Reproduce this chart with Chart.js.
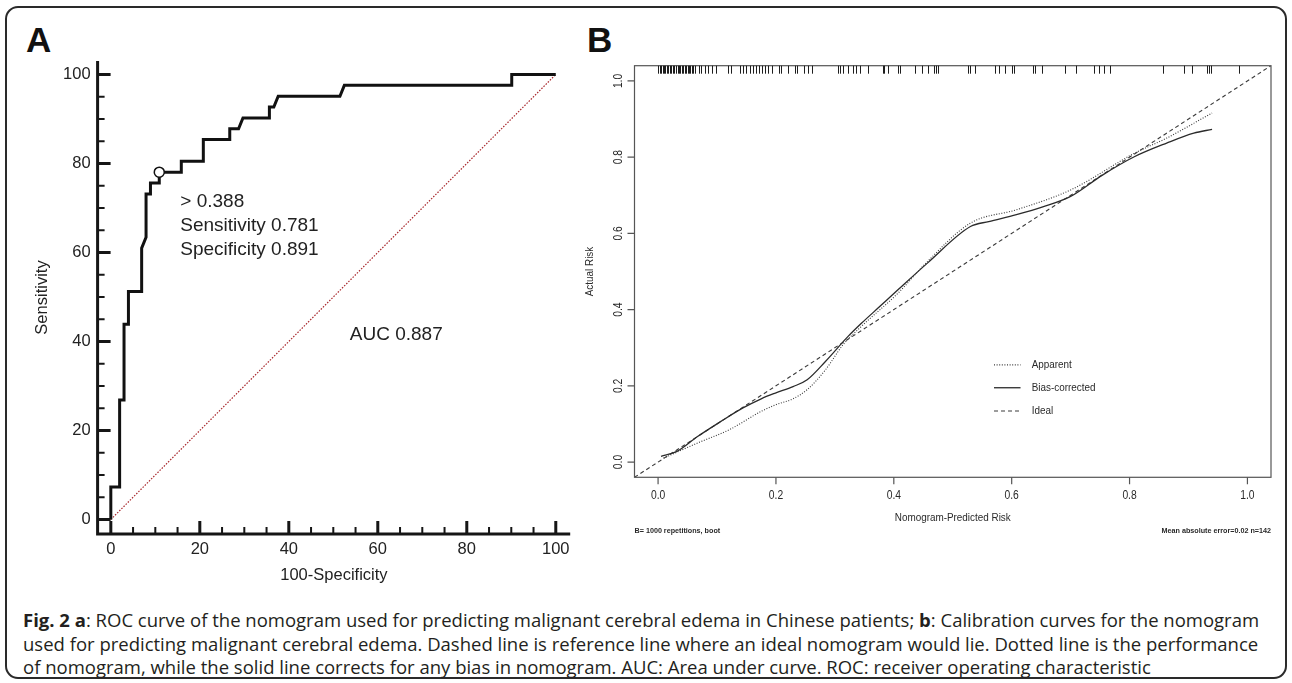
<!DOCTYPE html>
<html>
<head>
<meta charset="utf-8">
<script src="https://cdn.jsdelivr.net/npm/chart.js@4.4.1/dist/chart.umd.min.js"></script>
<style>
  html, body { margin: 0; padding: 0; background: #fff; }
  body { width: 1292px; height: 683px; position: relative; overflow: hidden; }
  #frame { position: absolute; left: 5px; top: 6px; width: 1278px; height: 669px;
           border: 2px solid #2a2a2a; border-radius: 13px; }
  .tag { position: absolute; font: bold 35px "Liberation Sans", Arial, sans-serif; line-height: 35px; color: #111; }
  canvas { position: absolute; }
  #cap { position: absolute; left: 23px; top: 608px; font: 18.5px "Open Sans", sans-serif;
         line-height: 23.5px; color: #231f20; white-space: nowrap; }
</style>
</head>
<body>
<div id="frame"></div>
<div class="tag" style="left:26px;top:22px">A</div>
<div class="tag" style="left:587px;top:22px">B</div>
<canvas id="rocChart" width="578" height="550" style="left:0;top:50px"></canvas>
<canvas id="calChart" width="712" height="550" style="left:578px;top:50px"></canvas>
<div id="cap">
  <div><b>Fig. 2</b> <b>a</b>: ROC curve of the nomogram used for predicting malignant cerebral edema in Chinese patients; <b>b</b>: Calibration curves for the nomogram</div>
  <div>used for predicting malignant cerebral edema. Dashed line is reference line where an ideal nomogram would lie. Dotted line is the performance</div>
  <div>of nomogram, while the solid line corrects for any bias in nomogram. AUC: Area under curve. ROC: receiver operating characteristic</div>
</div>
<script>
// ---- panel A: ROC curve (100-specificity, sensitivity, in %) ----
const rocFpr = [0, 0, 1.98, 1.98, 2.97, 2.97, 3.96, 3.96, 6.93, 6.93, 7.92, 7.92, 8.91, 8.91,
                10.89, 10.89, 15.84, 15.84, 20.79, 20.79, 26.73, 26.73, 28.71, 29.70, 35.64, 35.64,
                36.63, 37.62, 51.49, 52.48, 90.10, 90.10, 100];
const rocTpr = [0, 7.32, 7.32, 26.83, 26.83, 43.90, 43.90, 51.22, 51.22, 60.98, 63.41, 73.17, 73.17, 75.61,
                75.61, 78.05, 78.05, 80.49, 80.49, 85.37, 85.37, 87.80, 87.80, 90.24, 90.24, 92.68,
                92.68, 95.12, 95.12, 97.56, 97.56, 100, 100];
const rocCutoff     = [10.89, 78.05];
const rocCutoffText = ['> 0.388', 'Sensitivity 0.781', 'Specificity 0.891'];
const rocAucText    = 'AUC 0.887';
const rocTicks      = [0, 20, 40, 60, 80, 100];
const rocMinorStep  = 5;

// ---- panel B: calibration curves ----
const calTicks      = [0, 0.2, 0.4, 0.6, 0.8, 1.0];
const calTickLabels = ['0.0', '0.2', '0.4', '0.6', '0.8', '1.0'];
const apparentX = [0.009, 0.067, 0.121, 0.175, 0.199, 0.229, 0.253, 0.284, 0.314, 0.345, 0.407,
                   0.457, 0.530, 0.608, 0.700, 0.808, 0.863, 0.940];
const apparentY = [0.010, 0.050, 0.085, 0.133, 0.150, 0.166, 0.190, 0.242, 0.308, 0.356, 0.443,
                   0.526, 0.627, 0.662, 0.714, 0.810, 0.850, 0.916];
const biasX = [0.005, 0.032, 0.067, 0.106, 0.144, 0.175, 0.199, 0.229, 0.253, 0.284, 0.322, 0.345,
               0.376, 0.407, 0.457, 0.530, 0.561, 0.608, 0.654, 0.700, 0.754, 0.808, 0.863, 0.909, 0.940];
const biasY = [0.015, 0.028, 0.067, 0.106, 0.142, 0.166, 0.181, 0.198, 0.216, 0.264, 0.329, 0.364,
               0.408, 0.452, 0.522, 0.618, 0.631, 0.649, 0.670, 0.697, 0.753, 0.801, 0.837, 0.863, 0.873];
const rugRisk = [0.000, 0.003, 0.005, 0.008, 0.010, 0.012, 0.015, 0.017, 0.020, 0.022, 0.025, 0.027,
                 0.030, 0.033, 0.035, 0.038, 0.040, 0.043, 0.046, 0.048, 0.050, 0.052, 0.055, 0.057,
                 0.060, 0.062, 0.069, 0.073, 0.079, 0.085, 0.091, 0.099, 0.119, 0.124, 0.139, 0.144,
                 0.150, 0.156, 0.161, 0.166, 0.172, 0.176, 0.181, 0.187, 0.193, 0.205, 0.209, 0.220,
                 0.232, 0.235, 0.247, 0.254, 0.262, 0.305, 0.308, 0.314, 0.322, 0.330, 0.336, 0.342,
                 0.356, 0.382, 0.384, 0.390, 0.407, 0.411, 0.436, 0.447, 0.458, 0.469, 0.472, 0.475,
                 0.526, 0.530, 0.538, 0.571, 0.579, 0.589, 0.600, 0.604, 0.637, 0.640, 0.652, 0.690,
                 0.709, 0.740, 0.749, 0.757, 0.767, 0.857, 0.893, 0.906, 0.931, 0.934, 0.938, 0.985];
const calMin = -0.04;
const calMax = 1.04;

const fontA = '"Liberation Sans", Arial, sans-serif';
const zip = (xs, ys) => xs.map((v, i) => ({ x: v, y: ys[i] }));
function last(arr) { return arr[arr.length - 1]; }

const rocAxes = {
  id: 'rocAxes',
  afterDraw(chart) {
    const { ctx, chartArea: a, scales: { x, y } } = chart;
    ctx.save();
    ctx.strokeStyle = '#161616';
    ctx.lineWidth = 3;
    ctx.beginPath();
    ctx.moveTo(a.left, a.top);
    ctx.lineTo(a.left, a.bottom);
    ctx.lineTo(a.right, a.bottom);
    ctx.stroke();

    for (let v = rocTicks[0]; v <= last(rocTicks); v += rocMinorStep) {
      const major = rocTicks.includes(v);
      const len = major ? 13 : 7;
      ctx.lineWidth = major ? 3 : 2;
      const px = x.getPixelForValue(v);
      const py = y.getPixelForValue(v);
      ctx.beginPath();
      ctx.moveTo(px, a.bottom); ctx.lineTo(px, a.bottom - len);
      ctx.moveTo(a.left, py);   ctx.lineTo(a.left + len, py);
      ctx.stroke();
    }

    ctx.fillStyle = '#222';
    ctx.font = '16.5px ' + fontA;
    ctx.textBaseline = 'middle';
    ctx.textAlign = 'right';
    rocTicks.forEach(v => ctx.fillText(String(v), a.left - 7, y.getPixelForValue(v)));
    ctx.textAlign = 'center';
    rocTicks.forEach(v => ctx.fillText(String(v), x.getPixelForValue(v), a.bottom + 15));
    ctx.fillText('100-Specificity', (a.left + a.right) / 2, a.bottom + 41);
    ctx.save();
    ctx.translate(42, (a.top + a.bottom) / 2);
    ctx.rotate(-Math.PI / 2);
    ctx.fillText('Sensitivity', 0, 0);
    ctx.restore();

    ctx.font = '19px ' + fontA;
    ctx.textAlign = 'left';
    const cx = x.getPixelForValue(rocCutoff[0]);
    const cy = y.getPixelForValue(rocCutoff[1]);
    rocCutoffText.forEach((t, i) => ctx.fillText(t, cx + 21, cy + 30 + i * 23.8));
    ctx.fillText(rocAucText, x.getPixelForValue(53.7), y.getPixelForValue(41.4));
    ctx.restore();
  }
};

new Chart(document.getElementById('rocChart'), {
  type: 'scatter',
  data: {
    datasets: [
      {
        data: [{ x: rocCutoff[0], y: rocCutoff[1] }],
        pointRadius: 5,
        pointBackgroundColor: '#fff',
        pointBorderColor: '#111',
        pointBorderWidth: 1.5
      },
      {
        data: zip(rocFpr, rocTpr),
        showLine: true,
        borderColor: '#111',
        borderWidth: 3,
        borderJoinStyle: 'miter',
        pointRadius: 0
      },
      {
        data: [{ x: rocTicks[0], y: rocTicks[0] }, { x: last(rocTicks), y: last(rocTicks) }],
        showLine: true,
        borderColor: '#a8262b',
        borderWidth: 1.2,
        borderDash: [1.5, 1.5],
        pointRadius: 0
      }
    ]
  },
  options: {
    responsive: false,
    animation: false,
    devicePixelRatio: 1,
    layout: { padding: { left: 97.6, top: 11, right: 7.8, bottom: 66 } },
    plugins: { legend: { display: false }, tooltip: { enabled: false } },
    scales: {
      x: { type: 'linear', min: -2.97, max: 103.24, display: false },
      y: { type: 'linear', min: -3.26, max: 103.03, display: false }
    }
  },
  plugins: [rocAxes]
});

const calAxes = {
  id: 'calAxes',
  afterDraw(chart) {
    const { ctx, chartArea: a, scales: { x, y } } = chart;
    const narrow = (text, px, py, rot, align) => {
      ctx.save();
      ctx.translate(px, py);
      if (rot) ctx.rotate(rot);
      ctx.scale(0.86, 1);
      ctx.textAlign = align;
      ctx.fillText(text, 0, 0);
      ctx.restore();
    };
    ctx.save();
    ctx.strokeStyle = '#555';
    ctx.lineWidth = 1.2;
    ctx.strokeRect(a.left, a.top, a.right - a.left, a.bottom - a.top);

    ctx.beginPath();
    calTicks.forEach(v => {
      const px = x.getPixelForValue(v);
      const py = y.getPixelForValue(v);
      ctx.moveTo(px, a.bottom); ctx.lineTo(px, a.bottom + 7);
      ctx.moveTo(a.left, py);   ctx.lineTo(a.left - 7, py);
    });
    ctx.stroke();

    ctx.fillStyle = '#2a2a2a';
    ctx.font = '12px ' + fontA;
    ctx.textBaseline = 'middle';
    calTicks.forEach((v, i) => {
      narrow(calTickLabels[i], x.getPixelForValue(v), a.bottom + 18, 0, 'center');
      narrow(calTickLabels[i], a.left - 16, y.getPixelForValue(v), -Math.PI / 2, 'center');
    });
    ctx.font = '11.5px ' + fontA;
    narrow('Nomogram-Predicted Risk', (a.left + a.right) / 2, a.bottom + 41, 0, 'center');
    narrow('Actual Risk', a.left - 44.5, (a.top + a.bottom) / 2, -Math.PI / 2, 'center');

    // rug of predicted risks along the top edge
    ctx.strokeStyle = '#1e1e1e';
    ctx.lineWidth = 1;
    ctx.beginPath();
    rugRisk.forEach(v => {
      const px = Math.round(x.getPixelForValue(v)) + 0.5;
      ctx.moveTo(px, a.top);
      ctx.lineTo(px, a.top + 8);
    });
    ctx.stroke();

    // legend
    const rows = [0.255, 0.195, 0.134];
    chart.data.datasets.forEach((ds, i) => {
      const py = y.getPixelForValue(rows[i]);
      ctx.strokeStyle = ds.borderColor;
      ctx.lineWidth = ds.borderWidth;
      ctx.setLineDash(ds.borderDash || []);
      ctx.beginPath();
      ctx.moveTo(x.getPixelForValue(0.570), py);
      ctx.lineTo(x.getPixelForValue(0.615), py);
      ctx.stroke();
      ctx.setLineDash([]);
      narrow(ds.label, x.getPixelForValue(0.634), py, 0, 'left');
    });

    ctx.font = 'bold 7.2px ' + fontA;
    ctx.textAlign = 'left';
    ctx.fillText('B= 1000 repetitions, boot', a.left, a.bottom + 53.4);
    ctx.textAlign = 'right';
    ctx.fillText('Mean absolute error=0.02 n=142', a.right, a.bottom + 53.4);
    ctx.restore();
  }
};

new Chart(document.getElementById('calChart'), {
  type: 'scatter',
  data: {
    datasets: [
      {
        label: 'Apparent',
        data: zip(apparentX, apparentY),
        showLine: true,
        borderColor: '#3a3a3a',
        borderWidth: 1.1,
        borderDash: [1, 1.6],
        cubicInterpolationMode: 'monotone',
        pointRadius: 0
      },
      {
        label: 'Bias-corrected',
        data: zip(biasX, biasY),
        showLine: true,
        borderColor: '#2b2b2b',
        borderWidth: 1.3,
        cubicInterpolationMode: 'monotone',
        pointRadius: 0
      },
      {
        label: 'Ideal',
        data: [{ x: calMin, y: calMin }, { x: calMax, y: calMax }],
        showLine: true,
        borderColor: '#3a3a3a',
        borderWidth: 1.1,
        borderDash: [4, 3],
        pointRadius: 0
      }
    ]
  },
  options: {
    responsive: false,
    animation: false,
    devicePixelRatio: 1,
    layout: { padding: { left: 56.5, top: 15.7, right: 19, bottom: 122.7 } },
    plugins: { legend: { display: false }, tooltip: { enabled: false } },
    scales: {
      x: { type: 'linear', min: calMin, max: calMax, display: false },
      y: { type: 'linear', min: calMin, max: calMax, display: false }
    }
  },
  plugins: [calAxes]
});
</script>
</body>
</html>
